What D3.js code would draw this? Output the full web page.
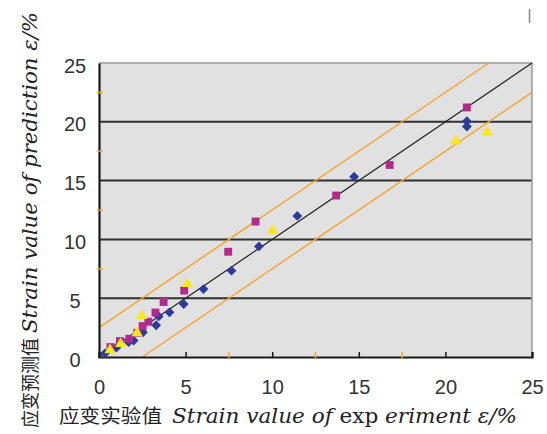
<!DOCTYPE html>
<html><head><meta charset="utf-8">
<script src="https://cdn.jsdelivr.net/npm/d3@7"></script>
<style>body{margin:0;background:#fff}svg{display:block}
.ser{font-family:"DejaVu Serif","Liberation Serif",serif}
.cjk{font-family:"Noto Sans CJK SC",sans-serif}
</style>
</head><body>
<script>
const ticks = [0, 5, 10, 15, 20, 25];
const minorTicks = [7.5, 12.5, 17.5, 22.5];
const blueX = [0.35, 1.0, 1.71, 2.0, 2.54, 3.3, 3.45, 4.07, 4.89, 6.03, 7.65, 9.23, 11.45, 14.73, 21.24, 21.24];
const blueY = [0.31, 0.79, 1.27, 1.4, 2.1, 2.7, 3.45, 3.8, 4.5, 5.78, 7.34, 9.4, 12.0, 15.33, 20.05, 19.6];
const magX = [0.66, 1.21, 1.75, 2.21, 2.52, 2.85, 3.26, 3.73, 4.92, 7.46, 9.04, 13.69, 16.78, 21.24];
const magY = [0.84, 1.36, 1.55, 2.06, 2.63, 3.0, 3.78, 4.68, 5.65, 8.95, 11.52, 13.73, 16.33, 21.22];
const yelX = [0.64, 1.25, 2.2, 2.47, 5.1, 10.03, 20.6, 22.41];
const yelY = [0.5, 1.05, 1.95, 3.42, 6.14, 10.67, 18.28, 19.02];
const band = 2.5;

const W = 547, H = 434;
const L = 99, R = 532, T = 63, B = 357;
const svg = d3.select("body").append("svg").attr("width", W).attr("height", H);
const x = d3.scaleLinear().domain([0, 25]).range([L, R]);
const y = d3.scaleLinear().domain([0, 25]).range([B, T]);

svg.append("rect").attr("x", L).attr("y", T).attr("width", R - L).attr("height", B - T).attr("fill", "#e1e1e1");

svg.append("g").selectAll("line").data(ticks.filter(t => t > 0 && t < 25)).join("line")
  .attr("x1", L).attr("x2", R).attr("y1", d => y(d)).attr("y2", d => y(d))
  .attr("stroke", "#2e3032").attr("stroke-width", 2);

svg.append("path").attr("d", `M${L},${T}H${R}V${B}`).attr("fill", "none").attr("stroke", "#9a9a9a").attr("stroke-width", 1.5);

const refs = [
  {p: [[0, 0], [25, 25]], c: "#222", w: 1.2},
  {p: [[0, band], [25 - band, 25]], c: "#f5a534", w: 1.5},
  {p: [[band, 0], [25, 25 - band]], c: "#f5a534", w: 1.5}
];
const line = d3.line().x(d => x(d[0])).y(d => y(d[1]));
svg.append("g").selectAll("path").data(refs).join("path")
  .attr("d", d => line(d.p)).attr("fill", "none").attr("stroke", d => d.c).attr("stroke-width", d => d.w);

const yAxis = d3.axisLeft(y).tickValues(ticks).tickSize(0).tickPadding(0);
const gy = svg.append("g").attr("transform", `translate(${L},0)`).call(yAxis);
gy.select(".domain").attr("stroke", "#1a1a1a").attr("stroke-width", 2.2);
gy.selectAll("text").attr("x", 75 - L).attr("text-anchor", "middle").attr("dy", "0.45em")
  .attr("font-family", "Liberation Sans, Arial, sans-serif").attr("font-size", 20).attr("fill", "#333");

const xAxis = d3.axisBottom(x).tickValues(ticks).tickSize(-5).tickPadding(0);
const gx = svg.append("g").attr("transform", `translate(0,${B})`).call(xAxis);
gx.select(".domain").attr("stroke", "#1a1a1a").attr("stroke-width", 2.2);
gx.selectAll(".tick line").attr("stroke", "#1a1a1a").attr("stroke-width", 1.5);
gx.selectAll("text").attr("y", 30).attr("dy", "0.35em").attr("font-family", "Liberation Sans, Arial, sans-serif").attr("font-size", 20).attr("fill", "#333");

svg.append("g").selectAll("line").data(minorTicks).join("line")
  .attr("x1", L - 2).attr("x2", L + 4).attr("y1", d => y(d)).attr("y2", d => y(d))
  .attr("stroke", "#f5a534").attr("stroke-width", 1.5);
svg.append("g").selectAll("line").data(minorTicks.filter(d => d < 20)).join("line")
  .attr("x1", d => x(d)).attr("x2", d => x(d)).attr("y1", B + 1).attr("y2", B - 5)
  .attr("stroke", "#f5a534").attr("stroke-width", 1.5);

const blue = blueX.map((v, i) => [v, blueY[i]]);
const mag = magX.map((v, i) => [v, magY[i]]);
const yel = yelX.map((v, i) => [v, yelY[i]]);
svg.append("g").selectAll("path").data(blue).join("path")
  .attr("d", d3.symbol(d3.symbolSquare, 48)())
  .attr("transform", d => `translate(${x(d[0])},${y(d[1])}) rotate(45)`)
  .attr("fill", "#2b3a9b");
svg.append("g").selectAll("path").data(mag).join("path")
  .attr("d", d3.symbol(d3.symbolSquare, 62)())
  .attr("transform", d => `translate(${x(d[0])},${y(d[1])})`)
  .attr("fill", "#b22a8c");
svg.append("g").selectAll("path").data(yel).join("path")
  .attr("d", d3.symbol(d3.symbolTriangle, 55)())
  .attr("transform", d => `translate(${x(d[0])},${y(d[1]) - 1})`)
  .attr("fill", "#f7e81a");

svg.append("text").attr("class", "cjk").attr("x", 59).attr("y", 423).attr("font-size", 19)
  .attr("fill", "#222").attr("textLength", 103).attr("lengthAdjust", "spacingAndGlyphs").text("应变实验值");
const xt = svg.append("text").attr("class", "ser").attr("x", 172).attr("y", 423).attr("font-size", 20)
  .attr("fill", "#222").attr("textLength", 345).attr("lengthAdjust", "spacingAndGlyphs");
xt.append("tspan").attr("font-style", "italic").text("Strain value of ");
xt.append("tspan").text("exp ");
xt.append("tspan").attr("font-style", "italic").text("eriment ε/%");

const yg = svg.append("g").attr("transform", "translate(37,0) rotate(-90)");
yg.append("text").attr("class", "cjk").attr("x", -428).attr("y", 0).attr("font-size", 18)
  .attr("fill", "#222").attr("textLength", 90).attr("lengthAdjust", "spacingAndGlyphs").text("应变预测值");
yg.append("text").attr("class", "ser").attr("x", -333).attr("y", 0).attr("font-size", 20).attr("font-style", "italic")
  .attr("fill", "#222").attr("textLength", 321).attr("lengthAdjust", "spacingAndGlyphs").text("Strain value of prediction ε/%");

svg.append("line").attr("x1", 529.5).attr("x2", 529.5).attr("y1", 9).attr("y2", 23).attr("stroke", "#8a8a8a").attr("stroke-width", 1.5);
</script>
</body></html>
